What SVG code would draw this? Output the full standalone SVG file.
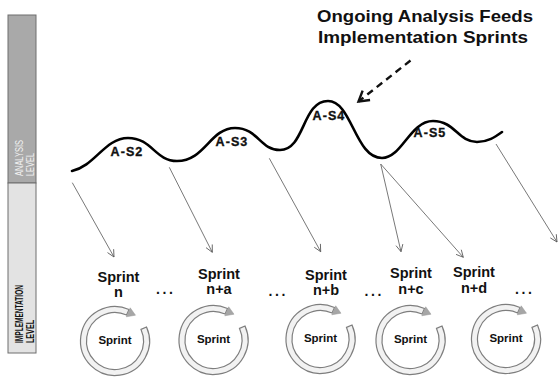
<svg xmlns="http://www.w3.org/2000/svg" xmlns:xlink="http://www.w3.org/1999/xlink" width="559" height="379" viewBox="0 0 559 379">
<style>
.b{font-family:"Liberation Sans",Arial,sans-serif;font-weight:bold;fill:#111}
.as{font-size:12.5px;letter-spacing:1.1px;text-anchor:middle;stroke:#111;stroke-width:0.35px}
.sp{font-size:14.5px;text-anchor:middle}
.in{font-size:11.5px;text-anchor:middle}
.dots{font-size:14px;letter-spacing:2.6px}
.thin{fill:none;stroke:#555;stroke-width:0.8}
.lv{font-family:"Liberation Sans",Arial,sans-serif;font-size:10.5px}
</style>
<defs>
<marker id="ah" markerWidth="10" markerHeight="10" refX="8" refY="5" orient="auto" markerUnits="userSpaceOnUse">
<path d="M1,1.5 L8,5 L1,8.5" fill="none" stroke="#555" stroke-width="0.8"/>
</marker>
<marker id="dah" markerWidth="16" markerHeight="16" refX="13" refY="8" orient="auto" markerUnits="userSpaceOnUse">
<path d="M3,2 L13,8 L3,14" fill="none" stroke="#111" stroke-width="2.4"/>
</marker>
<g id="ring">
<path d="M31.52,-14.03 A34.5,34.5 0 1 1 14.03,-31.52 L11.59,-26.03 A28.5,28.5 0 1 0 26.03,-11.59 Z" fill="#f2f2f2" stroke="#7e7e7e" stroke-width="1.2"/>
<path d="M11.3,-24.2 L15.2,-33.2 L20.5,-25.8 Z" fill="#a6a6a6" stroke="#999" stroke-width="0.5"/>
</g>
</defs>
<rect width="559" height="379" fill="#fff"/>
<g id="levels">
<rect x="8" y="15" width="28" height="168" fill="#a9a9a9" stroke="#6e6e6e" stroke-width="1"/>
<rect x="8" y="183" width="28" height="170" fill="#e3e3e3" stroke="#6e6e6e" stroke-width="1"/>
<text class="lv" transform="translate(23,176) rotate(-90)" fill="#f2f2f2" textLength="36" lengthAdjust="spacingAndGlyphs">ANALYSIS</text>
<text class="lv" transform="translate(33.5,176) rotate(-90)" fill="#f2f2f2" textLength="23" lengthAdjust="spacingAndGlyphs">LEVEL</text>
<text class="lv" transform="translate(23,343) rotate(-90)" font-weight="bold" fill="#111" textLength="58" lengthAdjust="spacingAndGlyphs">IMPLEMENTATION</text>
<text class="lv" transform="translate(33.5,343) rotate(-90)" font-weight="bold" fill="#111" textLength="23" lengthAdjust="spacingAndGlyphs">LEVEL</text>
</g>
<g id="title">
<text class="b" x="317" y="21.5" font-size="16.5" textLength="216" lengthAdjust="spacingAndGlyphs">Ongoing Analysis Feeds</text>
<text class="b" x="318" y="42.5" font-size="16.5" textLength="210" lengthAdjust="spacingAndGlyphs">Implementation Sprints</text>
</g>
<g id="analysis">
<path d="M72,171 C95,166 105,138 128,138 C152,138 155,161 177,161 C205,161 210,128 235,128 C258,128 260,150 280,150 C305,150 302,101 328,101 C352,101 355,158 382,158 C402,158 410,121 433,121 C455,121 458,142 477,142 C488,142 495,137 502,132" fill="none" stroke="#000" stroke-width="2.6" stroke-linecap="round"/>
<g id="as2"><text class="b as" x="127" y="156">A-S2</text></g>
<g id="as3"><text class="b as" x="232" y="146">A-S3</text></g>
<g id="as4"><text class="b as" x="329" y="119.5">A-S4</text></g>
<g id="as5"><text class="b as" x="430" y="137">A-S5</text></g>
</g>
<g id="connectors">
<path d="M410.5,60.5 L358.5,101.5" fill="none" stroke="#111" stroke-width="2.4" stroke-dasharray="7,5" marker-end="url(#dah)"/>
<path class="thin" d="M72.3,182.7 L114,257" marker-end="url(#ah)"/>
<path class="thin" d="M169.3,167.3 L212.3,252.3" marker-end="url(#ah)"/>
<path class="thin" d="M269.3,158.3 L320.7,251.7" marker-end="url(#ah)"/>
<path class="thin" d="M380.7,164 L401,251.7" marker-end="url(#ah)"/>
<path class="thin" d="M380.7,164 L463.3,257.3" marker-end="url(#ah)"/>
<path class="thin" d="M496,144 L557,242" marker-end="url(#ah)"/>
</g>
<g id="sprint-n">
<text class="b sp" x="118.5" y="281.5">Sprint</text>
<text class="b sp" x="118.5" y="296.5">n</text>
<use xlink:href="#ring" x="115" y="341"/>
<text class="b in" x="115" y="344">Sprint</text>
</g>
<g id="sprint-na">
<text class="b sp" x="219" y="278.5">Sprint</text>
<text class="b sp" x="219" y="294">n+a</text>
<use xlink:href="#ring" x="213.5" y="340"/>
<text class="b in" x="213.5" y="343">Sprint</text>
</g>
<g id="sprint-nb">
<text class="b sp" x="326" y="280">Sprint</text>
<text class="b sp" x="326" y="295">n+b</text>
<use xlink:href="#ring" x="320.5" y="339"/>
<text class="b in" x="320.5" y="342">Sprint</text>
</g>
<g id="sprint-nc">
<text class="b sp" x="411" y="277.5">Sprint</text>
<text class="b sp" x="411" y="293.5">n+c</text>
<use xlink:href="#ring" x="410.5" y="340"/>
<text class="b in" x="410.5" y="343">Sprint</text>
</g>
<g id="sprint-nd">
<text class="b sp" x="474" y="276.5">Sprint</text>
<text class="b sp" x="474" y="292.5">n+d</text>
<use xlink:href="#ring" x="506" y="339"/>
<text class="b in" x="506" y="342">Sprint</text>
</g>
<g id="ellipses">
<text class="b dots" x="156" y="293.5">...</text>
<text class="b dots" x="268.5" y="296">...</text>
<text class="b dots" x="364.5" y="296">...</text>
<text class="b dots" x="515" y="293.5">...</text>
</g>
</svg>
